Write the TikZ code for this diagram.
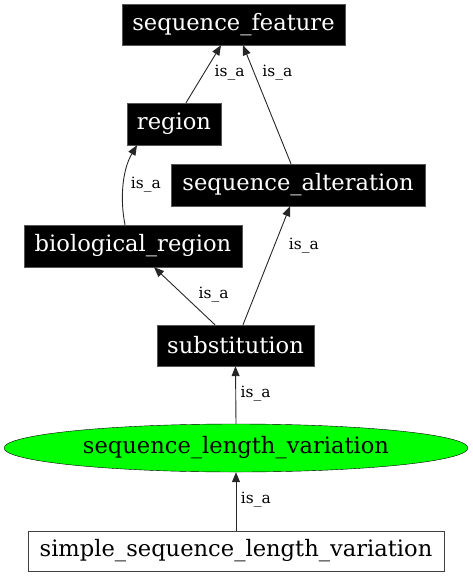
\documentclass[tikz,border=0pt]{standalone}
\usepackage{fontspec}
\setmainfont{DejaVu Serif}
\usepackage{xcolor}
\usepackage{tikz}
\usetikzlibrary{positioning,shapes.geometric,arrows.meta}
\definecolor{slvgreen}{HTML}{00FF00}
\definecolor{boxedge}{HTML}{555555}

\begin{document}
\begin{tikzpicture}[x=1pt,y=-1pt,
    termbox/.style={draw=boxedge,fill=black,text=white,inner sep=0pt,font=\fontsize{22.6}{26}\selectfont},
    leafbox/.style={draw=black!75,fill=white,inner sep=0pt,font=\fontsize{22.6}{26}\selectfont},
    focusnode/.style={ellipse,draw=black,fill=slvgreen,inner sep=0pt,font=\fontsize{22.6}{26}\selectfont},
    isa/.style={draw=black!85,line width=0.9pt,-{Triangle[length=10pt,width=8pt]}},
    isalabel/.style={inner sep=0pt,font=\fontsize{15.5}{18}\selectfont}]
  \useasboundingbox (0,0) rectangle (472,576);
  % terms
  \node[termbox,minimum width=223pt,minimum height=41pt] (seqfeature) at (233.5,24.5) {sequence\_feature};
  \node[termbox,minimum width=94pt,minimum height=42pt] (region) at (174,124) {region};
  \node[termbox,minimum width=254pt,minimum height=42pt] (seqalter) at (298,185) {sequence\_alteration};
  \node[termbox,minimum width=218pt,minimum height=42pt] (bioregion) at (133,246) {biological\_region};
  \node[termbox,minimum width=157pt,minimum height=41pt] (subst) at (235.5,345.5) {substitution};
  \node[focusnode,minimum width=464pt,minimum height=48pt] (slv) at (236,448) {sequence\_length\_variation};
  \node[leafbox,minimum width=416pt,minimum height=40pt] (simpleslv) at (236,551) {simple\_sequence\_length\_variation};
  % is_a links
  \draw[isa] ([xshift=12pt]region.north) -- node[isalabel,pos=0.52,right=10pt] (l1) {is\_a} ([xshift=-12.5pt]seqfeature.south);
  \draw[isa] ([xshift=-7pt]seqalter.north) -- node[isalabel,pos=0.77,right=8pt] (l2) {is\_a} ([xshift=9.5pt]seqfeature.south);
  \draw[isa] ([xshift=-8pt]bioregion.north) .. controls +(-5,-25) and +(-15,25) .. node[isalabel,pos=0.5,right=7pt] (l3) {is\_a} ([xshift=-37pt]region.south);
  \draw[isa] ([xshift=-20.5pt]subst.north) -- node[isalabel,pos=0.52,right=15pt] (l4) {is\_a} ([xshift=21pt]bioregion.south);
  \draw[isa] ([xshift=7.5pt]subst.north) -- node[isalabel,pos=0.67,right=14pt] (l5) {is\_a} ([xshift=-8pt]seqalter.south);
  \draw[isa] (slv.north) -- node[isalabel,pos=0.53,right=4.5pt] (l6) {is\_a} (subst.south);
  \draw[isa] (simpleslv.north) -- node[isalabel,pos=0.53,right=4.5pt] (l7) {is\_a} (slv.south);
\end{tikzpicture}
\end{document}
